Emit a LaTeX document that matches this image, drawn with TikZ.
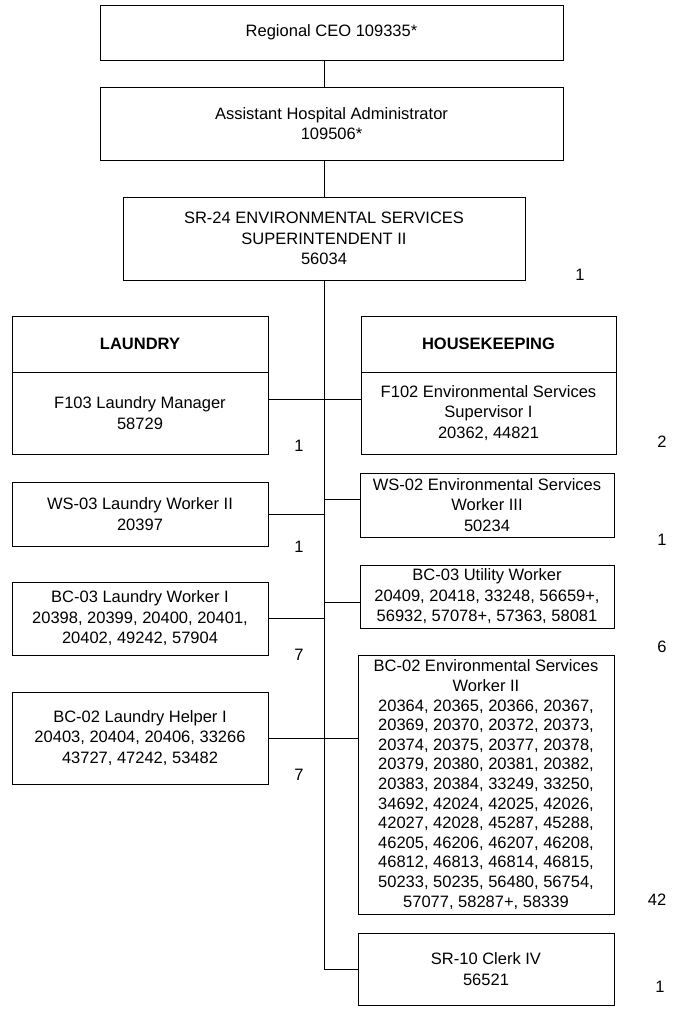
\documentclass[tikz,border=0pt]{standalone}
\usepackage{fontspec}
\setmainfont{Liberation Sans}
\usetikzlibrary{positioning}

\begin{document}
\begin{tikzpicture}[x=1pt,y=-1pt,line width=1pt,node distance=-1pt,
  box/.style={draw,align=center,inner sep=0pt,font=\fontsize{16.5}{20.5}\selectfont},
  lbox/.style={box,minimum width=256pt},
  rbox/.style={box,minimum width=255pt},
  count/.style={font=\fontsize{16.5}{20.5}\selectfont}]
  \useasboundingbox (0,0) rectangle (676,1013);
  % top of the chart
  \node[box,minimum width=463pt,minimum height=55pt] (ceo) at (331.5,32.5) {Regional CEO 109335*};
  \node[box,minimum width=463pt,minimum height=73pt] (aha) at (331.5,123.5) {Assistant Hospital Administrator\\109506*};
  \node[box,minimum width=402pt,minimum height=83pt] (sup) at (324,238.5) {SR-24 ENVIRONMENTAL SERVICES\\SUPERINTENDENT II\\56034};

  % laundry
  \node[lbox,minimum height=56pt] (laundry) at (140,344) {\textbf{LAUNDRY}};
  \node[lbox,minimum height=82pt] (lmgr) [below=of laundry] {F103 Laundry Manager\\58729};
  \node[lbox,minimum height=64pt] (lw2) at (140,514) {WS-03 Laundry Worker II\\20397};
  \node[lbox,minimum height=73pt] (lw1) at (140,618.5) {BC-03 Laundry Worker I\\20398, 20399, 20400, 20401,\\20402, 49242, 57904};
  \node[lbox,minimum height=92pt] (lhelp) at (140,738) {BC-02 Laundry Helper I\\20403, 20404, 20406, 33266\\43727, 47242, 53482};

  % housekeeping
  \node[rbox,minimum height=56pt] (hk) at (488.5,344) {\textbf{HOUSEKEEPING}};
  \node[rbox,minimum height=82pt] (esup) [below=of hk] {F102 Environmental Services\\Supervisor I\\20362, 44821};
  \node[box,minimum width=254pt,minimum height=64pt] (esw3) at (487,505) {WS-02 Environmental Services\\Worker III\\50234};
  \node[box,minimum width=254pt,minimum height=63pt] (util) at (487,596.5) {BC-03 Utility Worker\\20409, 20418, 33248, 56659+,\\56932, 57078+, 57363, 58081};
  \node[box,minimum width=256pt,minimum height=259pt,font=\fontsize{16.5}{19.6}\selectfont] (esw2) at (486,784.5) {BC-02 Environmental Services\\Worker II\\20364, 20365, 20366, 20367,\\20369, 20370, 20372, 20373,\\20374, 20375, 20377, 20378,\\20379, 20380, 20381, 20382,\\20383, 20384, 33249, 33250,\\34692, 42024, 42025, 42026,\\42027, 42028, 45287, 45288,\\46205, 46206, 46207, 46208,\\46812, 46813, 46814, 46815,\\50233, 50235, 56480, 56754,\\57077, 58287+, 58339};
  \node[box,minimum width=256pt,minimum height=72pt] (clerk) at (486,969) {SR-10 Clerk IV\\56521};

  % head counts
  \node[count] (c-sup) at (580,275) {1};
  \node[count] (c-lmgr) at (299,446) {1};
  \node[count] (c-lw2) at (299,547) {1};
  \node[count] (c-lw1) at (299,655) {7};
  \node[count] (c-lhelp) at (299,775) {7};
  \node[count] (c-esup) at (662,442) {2};
  \node[count] (c-esw3) at (662,540) {1};
  \node[count] (c-util) at (662,647) {6};
  \node[count] (c-esw2) at (657,900) {42};
  \node[count] (c-clerk) at (660,987) {1};

  % lines
  \coordinate (trunkend) at (sup.south |- clerk.west);
  \draw (ceo.south -| sup.north) -- (aha.north -| sup.north);
  \draw (aha.south -| sup.north) -- (sup.north);
  \draw (sup.south) -- (trunkend) -- (clerk.west);
  \draw ([yshift=14pt]lmgr.east) -- ([yshift=14pt]lmgr.east -| esup.west);
  \draw (lw2.east) -- (lw2.east -| sup.south);
  \draw (lw1.east) -- (lw1.east -| sup.south);
  \draw (lhelp.east) -- (lhelp.east -| esw2.west);
  \draw ([yshift=6pt]esw3.west) -- ([yshift=6pt]esw3.west -| sup.south);
  \draw ([yshift=-5.5pt]util.west) -- ([yshift=-5.5pt]util.west -| sup.south);
\end{tikzpicture}
\end{document}
